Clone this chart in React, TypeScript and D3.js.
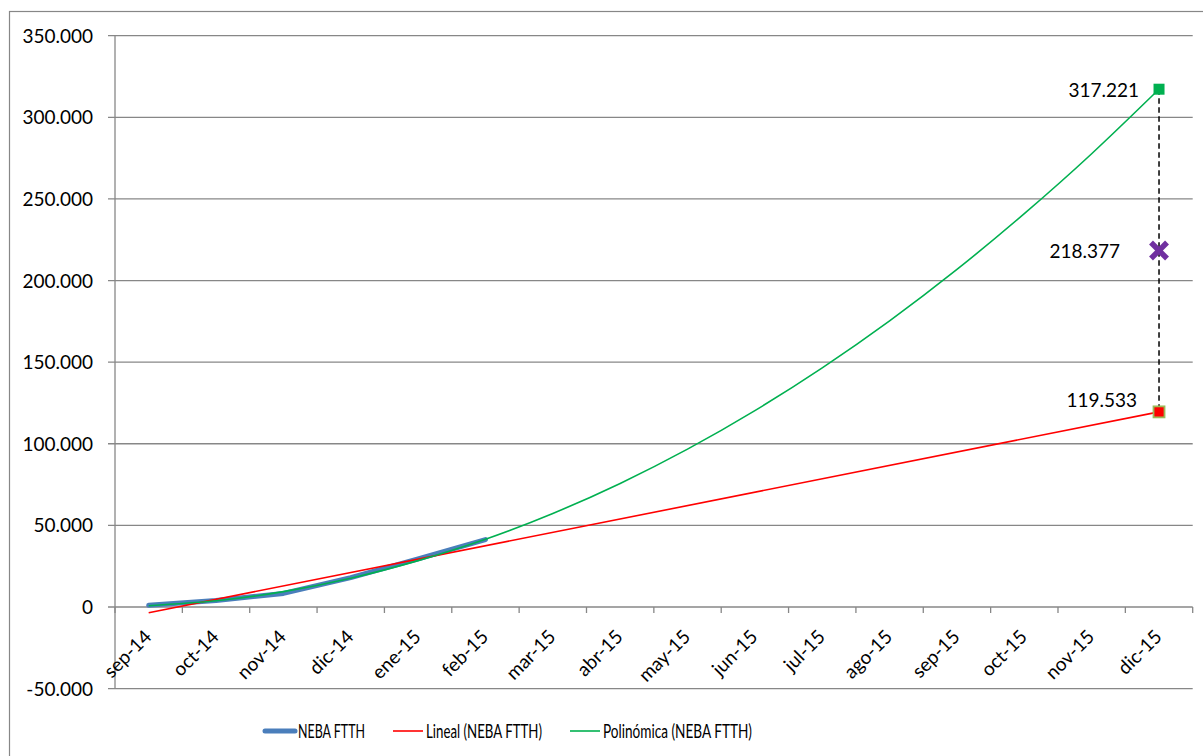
import React from 'react';
import * as d3 from 'd3';

const categories = ['sep-14','oct-14','nov-14','dic-14','ene-15','feb-15','mar-15','abr-15','may-15','jun-15','jul-15','ago-15','sep-15','oct-15','nov-15','dic-15'];
const nebaValues = [1000, 4000, 8300, 18000, 29500, 41300];
const polyTrend = [800, 3800, 9400, 17600, 28400, 41500, 57300, 75700, 96700, 120300, 146500, 175300, 206800, 241000, 277700, 317221];
const linearTrendEnds = [-3500, 119533];
const yTicks = [-50000, 0, 50000, 100000, 150000, 200000, 250000, 300000, 350000];
const forecastCategory = 'dic-15';
const forecastPoly = 317221;
const forecastMid = 218377;
const forecastLinear = 119533;
const legendItems = ['NEBA FTTH', 'Lineal (NEBA FTTH)', 'Polinómica (NEBA FTTH)'];

const FONT = 'Lato, "Open Sans", sans-serif';
const GRID = '#878787';

export default function App() {
  const W = 1203, H = 756;
  const left = 115, right = 1192.7;
  const x = d3.scaleBand<string>().domain(categories).range([left, right]).padding(0);
  const y = d3.scaleLinear().domain([-50000, 350000]).range([688.6, 35.7]);
  const cx = (c: string) => (x(c) as number) + x.bandwidth() / 2;
  const fmt = d3.formatLocale({ decimal: ',', thousands: '.', grouping: [3], currency: ['', '€'], minus: '-' } as any).format(',d');

  const blueLine = d3.line<number>().x((_, i) => cx(categories[i])).y(d => y(d))(nebaValues) || '';
  const greenLine = d3.line<number>().x((_, i) => cx(categories[i])).y(d => y(d)).curve(d3.curveNatural)(polyTrend) || '';
  const redLine = d3.line<number>()
    .x((_, i) => (i === 0 ? cx(categories[0]) : cx(categories[categories.length - 1])))
    .y(d => y(d))(linearTrendEnds) || '';

  const fx = cx(forecastCategory);
  const boundaries = [...categories.map(c => x(c) as number), right];
  const y0 = y(0);

  const legendX = [265, 393, 570];
  const legendTextLen = [67, 116, 149];
  const legendColors = ['#4A7EBB', '#FF0000', '#00B050'];
  const legendWidths = [5, 1.6, 1.6];

  return (
    <svg width={W} height={H} style={{ position: 'absolute', left: 0, top: 0, background: '#fff' }} fontFamily={FONT}>
      <rect x={9.5} y={11.5} width={1200} height={800} fill="#fff" stroke={GRID} strokeWidth={1.2} />
      {/* gridlines */}
      {yTicks.map(t => (
        <g key={t}>
          <line x1={108} x2={right} y1={y(t)} y2={y(t)} stroke={GRID} strokeWidth={1.3} />
          <text x={93} y={y(t) + 7} textAnchor="end" fontSize={19} fill="#000">{fmt(t)}</text>
        </g>
      ))}
      {/* y axis */}
      <line x1={left} x2={left} y1={y(350000)} y2={y(-50000)} stroke={GRID} strokeWidth={1.3} />
      {/* x axis ticks */}
      {boundaries.map((b, i) => (
        <line key={i} x1={b} x2={b} y1={y0} y2={y0 + 6} stroke={GRID} strokeWidth={1.3} />
      ))}
      {categories.map(c => (
        <text key={c} transform={`translate(${cx(c) + 4},${638}) rotate(-45)`} textAnchor="end" fontSize={19} fill="#000">{c}</text>
      ))}
      {/* series */}
      <path d={blueLine} fill="none" stroke="#4A7EBB" strokeWidth={5} strokeLinejoin="round" strokeLinecap="round" />
      <path d={redLine} fill="none" stroke="#FF0000" strokeWidth={1.6} />
      <path d={greenLine} fill="none" stroke="#00B050" strokeWidth={1.6} />
      {/* forecast range */}
      <line x1={fx} x2={fx} y1={y(forecastPoly)} y2={y(forecastLinear)} stroke="#000" strokeWidth={1.5} strokeDasharray="5.5,3.5" />
      <rect x={fx - 5.5} y={y(forecastPoly) - 5.5} width={11} height={11} fill="#00B050" />
      <rect x={fx - 5.5} y={y(forecastLinear) - 5.5} width={11} height={11} fill="#FF0000" stroke="#9BBB59" strokeWidth={1.8} />
      <g stroke="#7030A0" strokeWidth={5.5}>
        <line x1={fx - 8} x2={fx + 8} y1={y(forecastMid) - 8} y2={y(forecastMid) + 8} />
        <line x1={fx - 8} x2={fx + 8} y1={y(forecastMid) + 8} y2={y(forecastMid) - 8} />
      </g>
      <text x={1139} y={y(forecastPoly) + 8} textAnchor="end" fontSize={19} fill="#000">{fmt(forecastPoly)}</text>
      <text x={1120} y={y(forecastMid) + 7} textAnchor="end" fontSize={19} fill="#000">{fmt(forecastMid)}</text>
      <text x={1137} y={y(forecastLinear) - 4.5} textAnchor="end" fontSize={19} fill="#000">{fmt(forecastLinear)}</text>
      {/* legend */}
      {legendItems.map((name, i) => (
        <g key={name}>
          <line x1={legendX[i]} x2={legendX[i] + 30} y1={731} y2={731} stroke={legendColors[i]} strokeWidth={legendWidths[i]} strokeLinecap={i === 0 ? 'round' : 'butt'} />
          <text x={legendX[i] + 33} y={737.5} fontSize={18.5} fill="#000" textLength={legendTextLen[i]} lengthAdjust="spacingAndGlyphs">{name}</text>
        </g>
      ))}
    </svg>
  );
}
